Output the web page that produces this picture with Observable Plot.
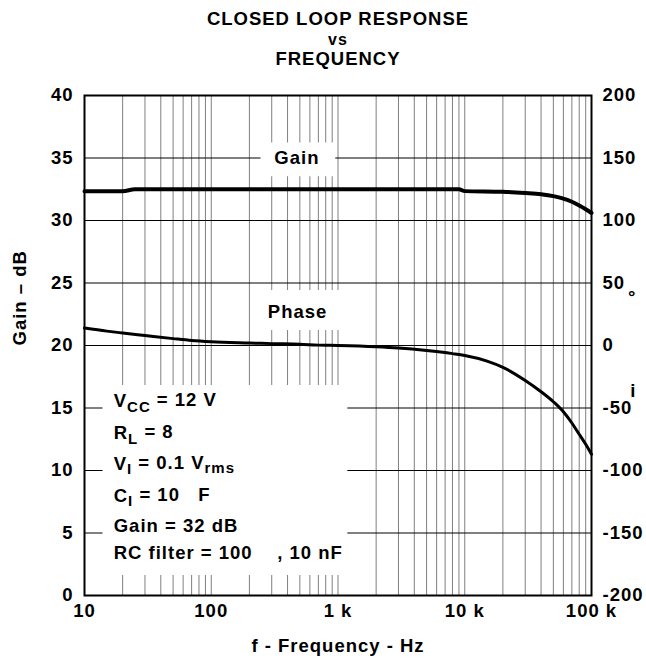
<!DOCTYPE html>
<html><head><meta charset="utf-8">
<script src="https://cdn.jsdelivr.net/npm/d3@7"></script>
<script src="https://cdn.jsdelivr.net/npm/@observablehq/plot@0.6"></script>
<style>
body{margin:0;background:#fff;}
svg text{white-space:pre;}
</style></head><body><div id="chart"></div><script>
// ---- data ----
const gainFreq = [10, 20, 25, 100, 1000, 9000, 10000, 20000, 30000, 40000, 50000, 60000, 70000, 80000, 90000, 100000];
const gainDb   = [32.35, 32.35, 32.5, 32.5, 32.5, 32.5, 32.35, 32.3, 32.2, 32.1, 31.95, 31.75, 31.5, 31.2, 30.9, 30.6];
const phaseFreq = [10, 15, 20, 30, 50, 70, 100, 200, 300, 500, 700, 1000, 2000, 3000, 5000, 8000, 10000, 15000, 20000, 30000, 40000, 50000, 60000, 70000, 80000, 90000, 100000];
const phaseDeg  = [14, 11.5, 10, 8, 5.5, 4, 3, 2, 1.5, 1, 0.3, 0, -1, -2, -4, -6.5, -8, -12.5, -17.5, -28, -37, -45, -53, -62, -71, -79, -87];
const gainTicks = [0, 5, 10, 15, 20, 25, 30, 35, 40];
const phaseTicks = [-200, -150, -100, -50, 0, 50, 100, 150, 200];
const freqTicks = [10, 100, 1000, 10000, 100000];
const freqTickLabels = ["10", "100", "1 k", "10 k", "100 k"];
const titleLines = ["CLOSED LOOP RESPONSE", "vs", "FREQUENCY"];
const legendLines = [
  [["V",""],["CC","sub"],[" = 12 V",""]],
  [["R",""],["L","sub"],[" = 8",""]],
  [["V",""],["I","sub"],[" = 0.1 V",""],["rms","sub"]],
  [["C",""],["I","sub"],[" = 10   F",""]],
  [["Gain = 32 dB",""]],
  [["RC filter = 100    , 10 nF",""]]
];
// annotation placements (frequency / dB units)
const legendX = 17;
const legendY = [15.05, 12.5, 10.05, 7.5, 5.05, 2.9];
const boxes = [
  {f1: 14, f2: 1195, g1: 1.6, g2: 16.8},
  {f1: 247, f2: 960, g1: 33.5, g2: 36.2},
  {f1: 247, f2: 1055, g1: 21.2, g2: 24.4}
];
const curveLabels = [{f: 474, g: 35, t: "Gain"}, {f: 480, g: 22.65, t: "Phase"}];

// ---- derived tables ----
const gain = gainFreq.map((f, i) => ({f, g: gainDb[i]}));
const phase = phaseFreq.map((f, i) => ({f, g: 20 + phaseDeg[i] / 10}));
const xGrid = [];
for (const d of [10, 100, 1000, 10000]) for (let m = 1; m <= 9; m++) xGrid.push(d * m);
xGrid.push(100000);
const yGrid = [5, 10, 15, 20, 25, 30, 35];
const legendPlain = legendLines.map(l => l.map(s => s[0]).join(""));
const legendData = legendPlain.map((t, i) => ({t, g: legendY[i]}));

const font = "'Liberation Sans', Arial, Helvetica, sans-serif";
const chart = Plot.plot({
  width: 646, height: 661,
  marginLeft: 84, marginRight: 55, marginTop: 95, marginBottom: 66,
  style: {fontFamily: font, fontSize: "18.5px", fontWeight: "bold", letterSpacing: "1px", background: "#fff", color: "#000"},
  x: {type: "log", domain: [10, 100000], axis: null},
  y: {domain: [0, 40], axis: null},
  marks: [
    Plot.gridX(xGrid, {stroke: "#000", strokeOpacity: 0.5, strokeWidth: 1}),
    Plot.gridY(yGrid, {stroke: "#000", strokeOpacity: 1, strokeWidth: 1}),
    Plot.rect(boxes, {x1: "f1", x2: "f2", y1: "g1", y2: "g2", fill: "white"}),
    Plot.frame({stroke: "#000", strokeWidth: 2}),
    Plot.axisY(gainTicks, {anchor: "left", tickSize: 0, tickPadding: 11, label: null}),
    Plot.axisY(phaseTicks.map(v => 20 + v / 10), {anchor: "right", tickSize: 0, tickPadding: 11, label: null, tickFormat: d => String(Math.round((d - 20) * 10))}),
    Plot.axisX(freqTicks, {anchor: "bottom", tickSize: 0, tickPadding: 8, label: null, tickFormat: d => freqTickLabels[freqTicks.indexOf(d)]}),
    Plot.line(gain, {x: "f", y: "g", stroke: "#000", strokeWidth: 4, curve: "monotone-x"}),
    Plot.line(phase, {x: "f", y: "g", stroke: "#000", strokeWidth: 3, curve: "monotone-x"}),
    Plot.text(curveLabels, {x: "f", y: "g", text: "t", textAnchor: "middle", lineAnchor: "middle"}),
    Plot.text(legendData, {x: () => legendX, y: "g", text: "t", textAnchor: "start", lineAnchor: "bottom"}),
    Plot.text(titleLines, {frameAnchor: "top", text: d => d, lineAnchor: "middle"}),
    Plot.text(["f - Frequency - Hz"], {frameAnchor: "bottom", text: d => d, dy: 51, lineAnchor: "middle"}),
    Plot.text(["Gain \u2013 dB"], {frameAnchor: "left", text: d => d, dx: -64, rotate: -90, lineAnchor: "middle"}),
    Plot.text(["\u00B0"], {frameAnchor: "right", text: d => d, dx: 45, dy: -48, lineAnchor: "middle"}),
    Plot.text(["i"], {frameAnchor: "right", text: d => d, dx: 45, dy: 46, lineAnchor: "middle"})
  ]
});
document.getElementById("chart").appendChild(chart);

// Title lines vertical placement and legend subscripts
const svg = d3.select(chart);
const titleDy = {"CLOSED LOOP RESPONSE": -76, "vs": -56, "FREQUENCY": -36};
svg.selectAll("text").each(function() {
  const t = this.textContent;
  if (t in titleDy) {
    const el = d3.select(this);
    const tr = el.attr("transform") || "";
    el.attr("transform", tr + ` translate(0,${titleDy[t]})`).style("font-size", t === "vs" ? "16px" : "18.5px");
  }
  const li = legendPlain.indexOf(t);
  if (li >= 0) {
    const el = d3.select(this);
    el.text(null);
    let sub = false;
    for (const [s, kind] of legendLines[li]) {
      const ts = el.append("tspan").text(s);
      if (kind === "sub") { ts.attr("dy", sub ? null : "0.3em").style("font-size", "15px"); sub = true; }
      else if (sub) { ts.attr("dy", "-0.3em"); sub = false; }
    }
  }
});
</script></body></html>
